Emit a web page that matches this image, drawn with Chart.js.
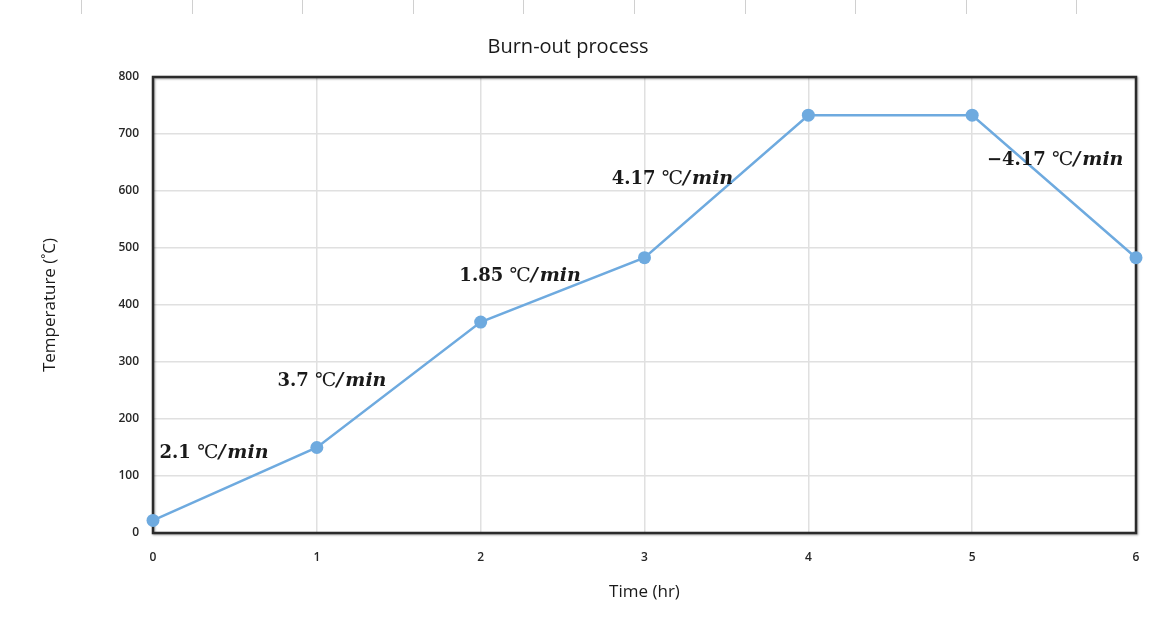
<!DOCTYPE html>
<html>
<head>
<meta charset="utf-8">
<title>Burn-out process</title>
<script src="https://cdn.jsdelivr.net/npm/chart.js@4/dist/chart.umd.min.js"></script>
<style>
    html, body { margin: 0; padding: 0; background: #fff; }
    #wrap { width: 1169px; height: 619px; }
</style>
</head>
<body>
<div id="wrap"><canvas id="chart"></canvas></div>
<script>
// Burn-out process data (time in hours, temperature in C)
const timeHours = [0, 1, 2, 3, 4, 5, 6];
const temperatures = [22, 150, 370, 483, 733, 733, 483];
const yTicks = [0, 100, 200, 300, 400, 500, 600, 700, 800];

// Heating rate labels written on the chart
const rateLabels = ['2.1', '3.7', '1.85', '4.17', '\u22124.17'];
const rateLabelAnchors = [
    { x: 0.04, y: 140 },
    { x: 0.76, y: 266 },
    { x: 1.87, y: 451 },
    { x: 2.80, y: 621 },
    { x: 5.09, y: 654 }
];

const LINE_COLOR = '#6eaadf';
const GRID_COLOR = '#e0e0e0';
const TEXT_COLOR = '#262626';
const SERIF = '"DejaVu Serif", "Liberation Serif", serif';

// Frame round the plot area, drawn under the line
const framePlugin = {
    id: 'frame',
    beforeDatasetsDraw(chart) {
        const { ctx, chartArea: a } = chart;
        ctx.save();
        ctx.shadowColor = 'rgba(0,0,0,0.35)';
        ctx.shadowBlur = 2;
        ctx.shadowOffsetX = 1;
        ctx.shadowOffsetY = 1;
        ctx.strokeStyle = '#2b2b2b';
        ctx.lineWidth = 2.5;
        ctx.strokeRect(a.left, a.top, a.right - a.left, a.bottom - a.top);
        ctx.restore();
    }
};

// Faint spreadsheet cell borders peeking at the top edge
const sheetPlugin = {
    id: 'sheet',
    beforeDraw(chart) {
        const ctx = chart.ctx;
        ctx.save();
        ctx.strokeStyle = '#d0d0d0';
        ctx.lineWidth = 1;
        for (let x = 81; x < 1169; x += 110.6) {
            ctx.beginPath();
            ctx.moveTo(Math.round(x) + 0.5, 0);
            ctx.lineTo(Math.round(x) + 0.5, 14);
            ctx.stroke();
        }
        ctx.restore();
    }
};

// Rate labels: bold number, degree sign, bold italic "/min"
const ratePlugin = {
    id: 'rates',
    afterDatasetsDraw(chart) {
        const { ctx, scales } = chart;
        ctx.save();
        ctx.textBaseline = 'middle';
        ctx.textAlign = 'left';
        ctx.fillStyle = '#1a1a1a';
        rateLabels.forEach((txt, i) => {
            let x = scales.x.getPixelForValue(rateLabelAnchors[i].x);
            const y = scales.y.getPixelForValue(rateLabelAnchors[i].y);
            const parts = [
                { t: txt + ' ', f: 'bold 18px ' + SERIF },
                { t: '\u2103', f: '19px ' + SERIF },
                { t: '/', f: 'bold italic 19px ' + SERIF },
                { t: 'min', f: 'bold italic 19px ' + SERIF }
            ];
            parts.forEach(p => {
                ctx.font = p.f;
                ctx.fillText(p.t, x, y);
                x += ctx.measureText(p.t).width + (p.t === '/' ? 2 : 0);
            });
        });
        ctx.restore();
    }
};

function initChart() {
    const canvas = document.getElementById('chart');
    canvas.width = 1169;
    canvas.height = 619;
    const ctx = canvas.getContext('2d');

    const points = timeHours.map((t, i) => ({ x: t, y: temperatures[i] }));

    return new Chart(ctx, {
        type: 'line',
        data: {
            datasets: [{
                label: 'Temperature',
                data: points,
                borderColor: LINE_COLOR,
                backgroundColor: LINE_COLOR,
                borderWidth: 2.5,
                pointRadius: 6.5,
                pointHoverRadius: 6.5,
                pointBackgroundColor: LINE_COLOR,
                pointBorderWidth: 0,
                tension: 0,
                clip: false
            }]
        },
        options: {
            responsive: false,
            animation: false,
            devicePixelRatio: 1,
            layout: { padding: { left: 0, right: 33, top: 0, bottom: 0 } },
            plugins: {
                legend: { display: false },
                tooltip: { enabled: false },
                title: {
                    display: true,
                    text: 'Burn-out process',
                    color: '#1a1a1a',
                    font: { family: '"Open Sans", "Noto Sans", sans-serif', size: 20, weight: 'normal' },
                    padding: { top: 35, bottom: 18 }
                }
            },
            scales: {
                x: {
                    type: 'linear',
                    min: 0,
                    max: 6,
                    afterFit(scale) { scale.height = 86; },
                    ticks: {
                        stepSize: 1,
                        padding: 17,
                        color: TEXT_COLOR,
                        font: { family: '"Open Sans", sans-serif', size: 12, weight: '600' }
                    },
                    grid: { color: GRID_COLOR, lineWidth: 1.5, drawTicks: false },
                    border: { display: false },
                    title: {
                        display: true,
                        text: 'Time (hr)',
                        color: '#1a1a1a',
                        font: { family: '"Open Sans", sans-serif', size: 17 },
                        padding: { top: 0, bottom: 17 }
                    }
                },
                y: {
                    min: 0,
                    max: 800,
                    afterFit(scale) { scale.width = 153; },
                    afterBuildTicks(scale) { scale.ticks = yTicks.map(v => ({ value: v })); },
                    ticks: {
                        padding: 14,
                        color: TEXT_COLOR,
                        font: { family: '"Open Sans", sans-serif', size: 12, weight: '600' }
                    },
                    grid: { color: GRID_COLOR, lineWidth: 1.5, drawTicks: false },
                    border: { display: false },
                    title: {
                        display: true,
                        text: 'Temperature (\u02daC)',
                        color: '#1a1a1a',
                        font: { family: '"Open Sans", sans-serif', size: 17 },
                        padding: { top: 40, bottom: 0 }
                    }
                }
            }
        },
        plugins: [sheetPlugin, framePlugin, ratePlugin]
    });
}

initChart();
</script>
</body>
</html>
